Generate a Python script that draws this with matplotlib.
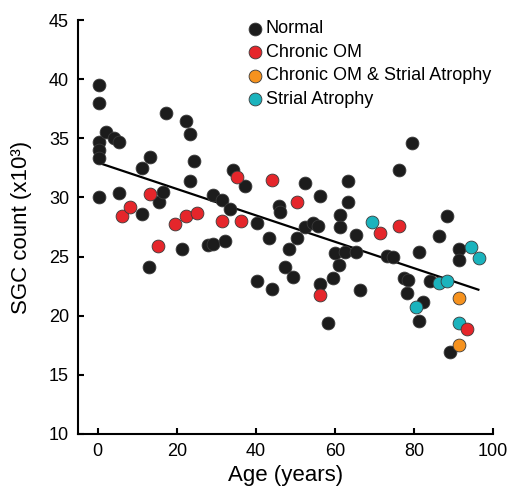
import numpy as np
import matplotlib
matplotlib.use("Agg")
import matplotlib.pyplot as plt

plt.rcParams["font.family"] = ["Liberation Sans", "DejaVu Sans"]

# ages (years) and SGC counts (x10^3)
normal_age = [0.3, 0.3, 0.3, 0.3, 0.3, 0.3, 2.2, 4.1, 5.4, 5.4,
              11.1, 11.1, 13.2, 13.0, 15.5, 16.4, 17.2, 21.2, 22.3, 23.3,
              23.3, 24.3, 27.9, 29.2, 32.2, 29.2, 31.5, 33.4, 34.3, 37.2,
              40.3, 40.2, 43.3, 44.1, 45.8, 46.2, 47.3, 48.3, 49.3, 50.3,
              52.4, 52.4, 54.5, 55.8, 56.2, 56.2, 58.2, 59.4, 60.0, 61.1,
              61.3, 61.3, 62.5, 63.4, 63.4, 65.3, 65.3, 66.3, 73.1, 74.6,
              76.3, 77.5, 78.6, 78.3, 79.4, 81.3, 81.4, 82.4, 84.1, 86.3,
              88.4, 89.2, 91.3, 91.3]
normal_sgc = [39.5, 38.0, 34.7, 34.0, 33.3, 30.05, 35.55, 35.0, 34.7, 30.4,
              32.5, 28.6, 33.4, 24.15, 29.6, 30.5, 37.1, 25.6, 36.5, 35.4,
              31.4, 33.1, 26.0, 26.1, 26.3, 30.2, 29.8, 29.0, 32.3, 31.0,
              27.8, 22.9, 26.6, 22.3, 29.3, 28.8, 24.1, 25.6, 23.3, 26.6,
              31.2, 27.5, 27.8, 27.6, 30.1, 22.7, 19.4, 23.2, 25.3, 24.3,
              28.5, 27.5, 25.4, 31.4, 29.6, 26.8, 25.4, 22.2, 25.05, 25.0,
              32.3, 23.15, 23.0, 21.9, 34.6, 25.4, 19.55, 21.2, 22.9, 26.7,
              28.4, 16.95, 25.65, 24.7]

chronic_om_age = [6.2, 8.1, 13.2, 15.3, 19.5, 22.3, 25.1, 31.5, 35.3, 36.2,
                  44.1, 50.5, 56.2, 71.4, 76.3, 93.5]
chronic_om_sgc = [28.4, 29.2, 30.3, 25.9, 27.75, 28.4, 28.7, 28.0, 31.7, 28.0,
                  31.5, 29.6, 21.75, 27.0, 27.6, 18.9]

om_atrophy_age = [91.4, 91.4]
om_atrophy_sgc = [21.5, 17.5]

atrophy_age = [69.3, 80.4, 86.3, 88.4, 91.4, 94.4, 96.5]
atrophy_sgc = [27.9, 20.7, 22.8, 22.9, 19.4, 25.8, 24.85]

# regression line end points
fit_age = [0.0, 96.3]
fit_sgc = [32.95, 22.2]

x_ticks = [0, 20, 40, 60, 80, 100]
y_ticks = [10, 15, 20, 25, 30, 35, 40, 45]

BLACK = "#1c1c1c"
RED = "#e5262b"
ORANGE = "#f6921e"
CYAN = "#1bb3bd"
EDGE = "#3a3a3a"


def main():
    fig = plt.figure(figsize=(5.10, 4.88), dpi=100)
    ax = fig.add_axes([78 / 510, 54 / 488, 415 / 510, 414 / 488])

    ax.plot(fit_age, fit_sgc, color="black", linewidth=1.6, zorder=1)

    kw = dict(s=85, edgecolors=EDGE, linewidths=0.6)
    ax.scatter(normal_age, normal_sgc, color=BLACK, label="Normal", zorder=2, **kw)
    ax.scatter(atrophy_age, atrophy_sgc, color=CYAN, label="Strial Atrophy", zorder=3, **kw)
    ax.scatter(om_atrophy_age, om_atrophy_sgc, color=ORANGE,
               label="Chronic OM & Strial Atrophy", zorder=4, **kw)
    ax.scatter(chronic_om_age, chronic_om_sgc, color=RED, label="Chronic OM", zorder=5, **kw)

    ax.set_xlim(-5, 100)
    ax.set_ylim(10, 45)
    ax.set_xticks(x_ticks)
    ax.set_yticks(y_ticks)
    for side in ["top", "right"]:
        ax.spines[side].set_visible(False)
    for side in ["left", "bottom"]:
        ax.spines[side].set_linewidth(1.5)
    ax.tick_params(direction="in", length=4, width=1.5, labelsize=13, pad=6.5)

    ax.set_xlabel("Age (years)", fontsize=16)
    ax.set_ylabel("SGC count (x10³)", fontsize=16)
    ax.xaxis.set_label_coords(0.5, -0.075)
    ax.yaxis.set_label_coords(-0.11, 0.5)

    handles, labels = ax.get_legend_handles_labels()
    order = ["Normal", "Chronic OM", "Chronic OM & Strial Atrophy", "Strial Atrophy"]
    lookup = dict(zip(labels, handles))
    fig.legend([lookup[l] for l in order], order,
               loc="upper left", bbox_to_anchor=(247.8 / 510, 0.958),
               frameon=False, fontsize=13, scatterpoints=1,
               handlelength=0.8, handletextpad=0.2, labelspacing=0.36,
               borderpad=0, borderaxespad=0)

    fig.savefig("out.png", dpi=100)
    plt.close(fig)


if __name__ == "__main__":
    main()
